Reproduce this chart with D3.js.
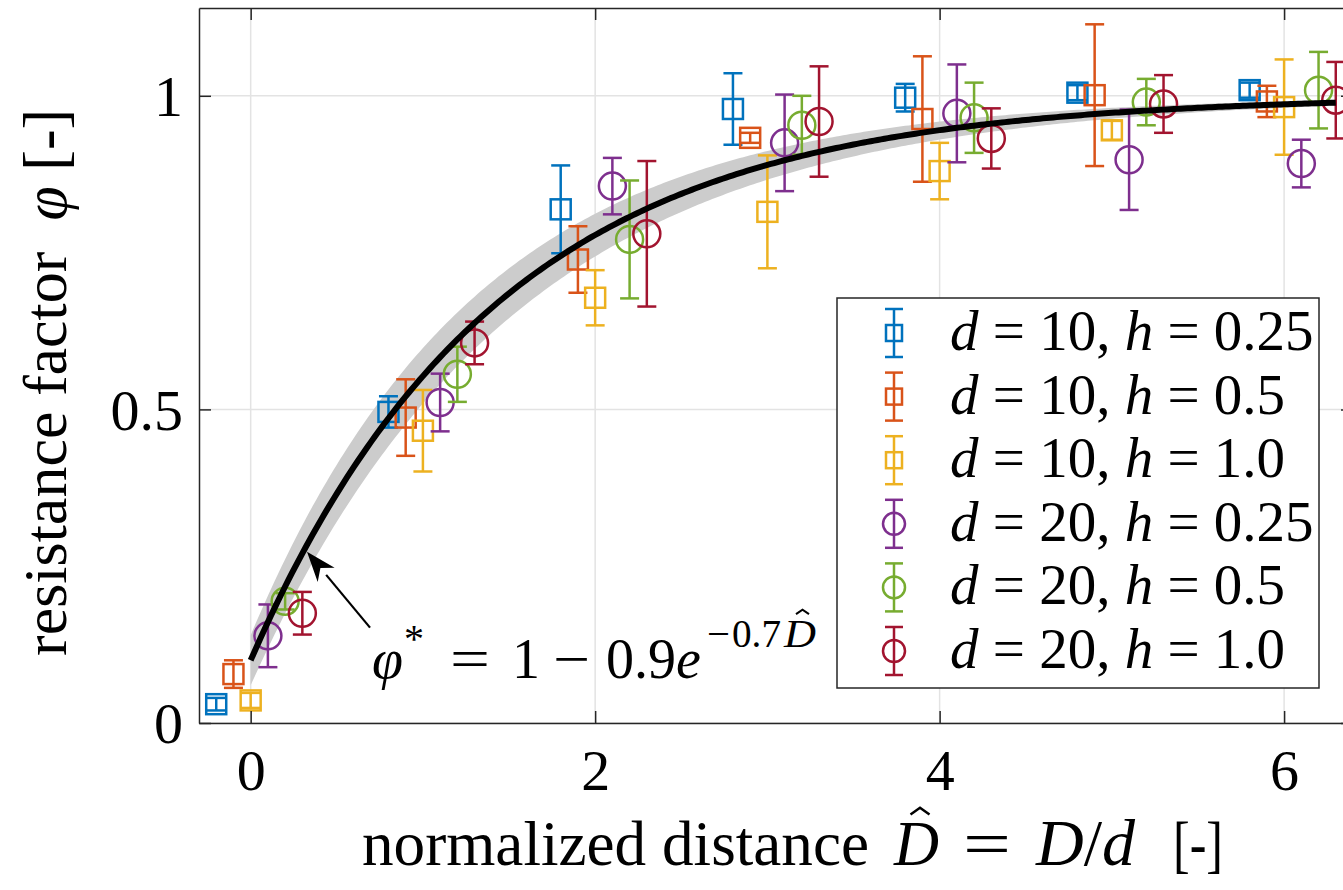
<!DOCTYPE html>
<html><head><meta charset="utf-8">
<script src="https://cdn.jsdelivr.net/npm/d3@7"></script>
<style>body{margin:0;background:#fff}svg{display:block}</style>
</head><body>
<svg id="c" width="1343" height="890"></svg>
<script>
// ---------------- data ----------------
const dValues = [10, 10, 10, 20, 20, 20];
const hValues = ["0.25", "0.5", "1.0", "0.25", "0.5", "1.0"];
const markerShapes = ["square", "square", "square", "circle", "circle", "circle"];
const seriesColors = ["#0072BD", "#D95319", "#EDB120", "#7E2F8E", "#77AC30", "#A2142F"];

const xS1 = [-0.2, 0.8, 1.8, 2.8, 3.8, 4.8, 5.8];
const yS1 = [0.030, 0.496, 0.819, 0.979, 0.997, 1.005, 1.009];
const eS1 = [0.010, 0.025, 0.070, 0.057, 0.022, 0.012, 0.012];

const xS2 = [-0.1, 0.9, 1.9, 2.9, 3.9, 4.9, 5.9];
const yS2 = [0.078, 0.487, 0.739, 0.933, 0.963, 1.001, 0.991];
const eS2 = [0.022, 0.061, 0.053, 0.008, 0.100, 0.113, 0.025];

const xS3 = [0.0, 1.0, 2.0, 3.0, 4.0, 5.0, 6.0];
const yS3 = [0.036, 0.466, 0.678, 0.815, 0.880, 0.945, 0.982];
const eS3 = [0.012, 0.065, 0.044, 0.090, 0.045, 0.015, 0.076];

const xS4 = [0.1, 1.1, 2.1, 3.1, 4.1, 5.1, 6.1];
const yS4 = [0.139, 0.511, 0.856, 0.925, 0.972, 0.898, 0.892];
const eS4 = [0.050, 0.046, 0.045, 0.077, 0.078, 0.080, 0.038];

const xS5 = [0.2, 1.2, 2.2, 3.2, 4.2, 5.2, 6.2];
const yS5 = [0.194, 0.556, 0.771, 0.953, 0.965, 0.990, 1.009];
const eS5 = [0.013, 0.044, 0.094, 0.047, 0.056, 0.037, 0.061];

const xS6 = [0.3, 1.3, 2.3, 3.3, 4.3, 5.3, 6.3];
const yS6 = [0.175, 0.606, 0.780, 0.959, 0.932, 0.987, 0.993];
const eS6 = [0.034, 0.034, 0.116, 0.088, 0.048, 0.046, 0.061];

const xTicks = [0, 2, 4, 6];
const yTicks = [0, 0.5, 1];

// fitted model  phi* = 1 - A exp(-B D), and its uncertainty envelope
const fitA = 0.9, fitB = 0.7;
const bandUpperA = 0.86, bandUpperB = 0.76;
const bandLowerA = 0.94, bandLowerB = 0.65;
const fitRange = [0, 6.3];
// annotation arrow (data units)
const arrowTip = [0.327, 0.273];
const arrowTail = [0.693, 0.152];

// ---------------- chart ----------------
const series = [
  {x: xS1, y: yS1, e: eS1}, {x: xS2, y: yS2, e: eS2}, {x: xS3, y: yS3, e: eS3},
  {x: xS4, y: yS4, e: eS4}, {x: xS5, y: yS5, e: eS5}, {x: xS6, y: yS6, e: eS6}
].map((s, i) => ({...s, color: seriesColors[i], shape: markerShapes[i], d: dValues[i], h: hValues[i]}));

const FONT = "'Liberation Serif','Times New Roman',serif";
const svg = d3.select("#c");
const L = 199, R = 1353, T = 8, B = 723;
const x = d3.scaleLinear().domain([-0.3, 6.4]).range([L, R]);
const y = d3.scaleLinear().domain([0, 1.14]).range([B, T]);
const axisColor = "#262626";

// grid
const grid = svg.append("g").attr("stroke", "#e3e3e3").attr("stroke-width", 1.5);
grid.selectAll(".gx").data(xTicks).join("line")
  .attr("x1", d => x(d)).attr("x2", d => x(d)).attr("y1", T).attr("y2", B);
grid.selectAll(".gy").data(yTicks).join("line")
  .attr("y1", d => y(d)).attr("y2", d => y(d)).attr("x1", L).attr("x2", R);

// clip
svg.append("clipPath").attr("id", "plot").append("rect")
  .attr("x", L).attr("y", T).attr("width", R - L).attr("height", B - T);
const plot = svg.append("g").attr("clip-path", "url(#plot)");

// band
const samples = d3.range(fitRange[0], fitRange[1] + 1e-9, 0.02);
const fit = D => 1 - fitA * Math.exp(-fitB * D);
const upper = D => 1 - bandUpperA * Math.exp(-bandUpperB * D);
const lower = D => 1 - bandLowerA * Math.exp(-bandLowerB * D);
plot.append("path").datum(samples)
  .attr("d", d3.area().x(d => x(d)).y0(d => y(lower(d))).y1(d => y(upper(d))))
  .attr("fill", "#cccccc");

// error bars + markers
const SQ = 20, CR = 13.5, CAP = 19, SW = 2.5;
series.forEach(s => {
  const g = plot.append("g").attr("stroke", s.color).attr("stroke-width", SW).attr("fill", "none");
  s.x.forEach((xv, i) => {
    const cx = x(xv), yv = s.y[i], ev = s.e[i];
    g.append("line").attr("x1", cx).attr("x2", cx).attr("y1", y(yv - ev)).attr("y2", y(yv + ev));
    g.append("line").attr("x1", cx - CAP / 2).attr("x2", cx + CAP / 2).attr("y1", y(yv - ev)).attr("y2", y(yv - ev));
    g.append("line").attr("x1", cx - CAP / 2).attr("x2", cx + CAP / 2).attr("y1", y(yv + ev)).attr("y2", y(yv + ev));
    if (s.shape === "square")
      g.append("rect").attr("x", cx - SQ / 2).attr("y", y(yv) - SQ / 2).attr("width", SQ).attr("height", SQ);
    else
      g.append("circle").attr("cx", cx).attr("cy", y(yv)).attr("r", CR);
  });
});

// fit curve
plot.append("path").datum(samples)
  .attr("d", d3.line().x(d => x(d)).y(d => y(fit(d))))
  .attr("fill", "none").attr("stroke", "#000").attr("stroke-width", 6);

// axes
function styleAxis(g) {
  g.select(".domain").attr("stroke", axisColor).attr("stroke-width", 1.5);
  g.selectAll(".tick line").attr("stroke", axisColor).attr("stroke-width", 1.5);
  g.selectAll(".tick text").attr("fill", "#000").attr("font-family", FONT).attr("font-size", 58);
}
const gB = svg.append("g").attr("transform", `translate(0,${B})`)
  .call(d3.axisBottom(x).tickValues(xTicks).tickSize(-12).tickSizeOuter(0).tickFormat(d3.format("~g")));
styleAxis(gB);
gB.selectAll(".tick text").attr("y", 67).attr("dy", null);
const gT = svg.append("g").attr("transform", `translate(0,${T})`)
  .call(d3.axisTop(x).tickValues(xTicks).tickSize(-12).tickSizeOuter(0).tickFormat(""));
styleAxis(gT);
const gL = svg.append("g").attr("transform", `translate(${L},0)`)
  .call(d3.axisLeft(y).tickValues(yTicks).tickSize(-12).tickSizeOuter(0).tickFormat(d3.format("~g")));
styleAxis(gL);
gL.selectAll(".tick text").attr("x", -16).attr("dy", "0.34em");
const gR = svg.append("g").attr("transform", `translate(${R},0)`)
  .call(d3.axisRight(y).tickValues(yTicks).tickSize(-12).tickSizeOuter(0).tickFormat(""));
styleAxis(gR);

// annotation arrow
const tip = [x(arrowTip[0]), y(arrowTip[1])], tail = [x(arrowTail[0]), y(arrowTail[1])];
const ang = Math.atan2(tip[1] - tail[1], tip[0] - tail[0]);
const HL = 30, HW = 11;
const bx = tip[0] - HL * Math.cos(ang), by = tip[1] - HL * Math.sin(ang);
svg.append("line").attr("x1", tail[0]).attr("y1", tail[1]).attr("x2", bx).attr("y2", by)
  .attr("stroke", "#000").attr("stroke-width", 2.2);
svg.append("path").attr("fill", "#000")
  .attr("d", `M${tip[0]},${tip[1]} L${bx + HW * Math.sin(ang)},${by - HW * Math.cos(ang)} L${bx + 0.3 * HL * Math.cos(ang)},${by + 0.3 * HL * Math.sin(ang)} L${bx - HW * Math.sin(ang)},${by + HW * Math.cos(ang)} Z`);

function hat(cx, top, w, sw) {
  svg.append("path").attr("d", `M${cx - w / 2},${top + w * 0.35} L${cx},${top} L${cx + w / 2},${top + w * 0.35}`)
    .attr("fill", "none").attr("stroke", "#000").attr("stroke-width", sw);
}
// a piece of math text placed at x (optionally squeezed/stretched to a width)
function piece(xp, yp, size, str, italic, width) {
  const t = svg.append("text").attr("x", xp).attr("y", yp).attr("font-family", FONT)
    .attr("font-size", size).attr("font-style", italic ? "italic" : "normal").text(str);
  if (width) t.attr("textLength", width).attr("lengthAdjust", "spacingAndGlyphs");
  return t;
}

// annotation text  φ* = 1 − 0.9e^{−0.7D̂}
piece(372, 678, 56, "φ", true);
piece(404, 652, 40, "*", false);
piece(450, 678, 56, "=", false, 40);
piece(512, 678, 56, "1", false);
piece(553, 678, 56, "−", false, 37);
const ne = svg.append("text").attr("x", 606).attr("y", 678).attr("font-family", FONT).attr("font-size", 56);
ne.append("tspan").text("0.9");
ne.append("tspan").attr("font-style", "italic").text("e");
piece(707, 647, 40, "−", false, 23);
piece(732, 647, 40, "0.7", false, 49);
const supD = piece(784, 647, 40, "D", true, 32);
{
  const bb = supD.node().getBBox();
  hat(bb.x + bb.width / 2 + 3, 647 - 0.66 * 40 - 11, 13, 2);
}

// legend
const lg = svg.append("g");
lg.append("rect").attr("x", 837).attr("y", 298).attr("width", 482).attr("height", 390)
  .attr("fill", "#fff").attr("stroke", axisColor).attr("stroke-width", 1.5);
series.forEach((s, i) => {
  const cy = 333 + i * 63.6, cx = 894;
  const g = lg.append("g").attr("stroke", s.color).attr("stroke-width", SW).attr("fill", "none");
  g.append("line").attr("x1", cx).attr("x2", cx).attr("y1", cy - 24).attr("y2", cy + 24);
  g.append("line").attr("x1", cx - 9).attr("x2", cx + 9).attr("y1", cy - 24).attr("y2", cy - 24);
  g.append("line").attr("x1", cx - 9).attr("x2", cx + 9).attr("y1", cy + 24).attr("y2", cy + 24);
  if (s.shape === "square") g.append("rect").attr("x", cx - 8).attr("y", cy - 8).attr("width", 16).attr("height", 16);
  else g.append("circle").attr("cx", cx).attr("cy", cy).attr("r", 11);
  const t = lg.append("text").attr("x", 950).attr("y", cy + 17).attr("font-family", FONT).attr("font-size", 57)
    .attr("xml:space", "preserve");
  t.append("tspan").attr("font-style", "italic").text("d");
  t.append("tspan").text(` = ${s.d}, `);
  t.append("tspan").attr("font-style", "italic").text("h");
  t.append("tspan").text(` = ${s.h}`);
});

// x axis label
piece(362, 865, 64, "normalized distance", false, 507);
const xD = piece(894, 865, 64, "D", true, 45);
{
  const bb = xD.node().getBBox();
  hat(bb.x + bb.width / 2 + 4, 865 - 0.66 * 64 - 15, 19, 2.5);
}
piece(963, 865, 64, "=", false, 48);
const dd = svg.append("text").attr("x", 1036).attr("y", 865).attr("font-family", FONT).attr("font-size", 66);
dd.append("tspan").attr("font-style", "italic").text("D");
dd.append("tspan").text("/");
dd.append("tspan").attr("font-style", "italic").text("d");
piece(1173, 865, 64, "[-]", false, 50);

// y axis label
const yl = svg.append("text").attr("transform", "translate(66,656) rotate(-90)")
  .attr("font-family", FONT).attr("font-size", 62).attr("xml:space", "preserve");
yl.append("tspan").text("resistance factor  ");
yl.append("tspan").attr("font-style", "italic").text("φ");
yl.append("tspan").text(" [-]");
</script>
</body></html>
